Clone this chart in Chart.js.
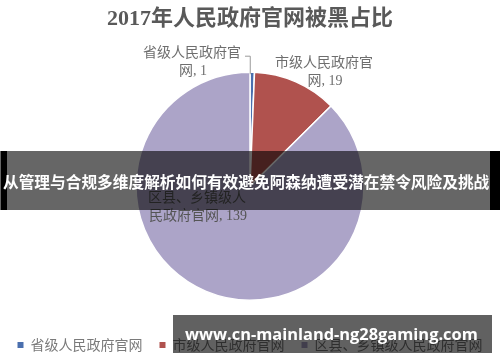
<!DOCTYPE html>
<html>
<head>
<meta charset="utf-8">
<script src="https://cdn.jsdelivr.net/npm/chart.js@4"></script>
<style>
  html, body { margin: 0; padding: 0; background: #fff; }
  #wrap { position: relative; width: 500px; height: 362px; overflow: hidden; }
  #chart { position: absolute; left: 0; top: 0; }
  .band {
    position: absolute; left: 0; top: 151px; width: 500px; height: 59px;
    background: rgba(0, 0, 0, 0.6);
  }
  .band .edge-l { position: absolute; left: 1px; top: 0; width: 6px; height: 100%; background: #000; }
  .band .edge-r { position: absolute; right: 0; top: 0; width: 10px; height: 100%; background: #000; }
  .band .txt {
    position: absolute; left: 3px; top: 0; height: 59px;
    color: #fff; font: bold 15.7px 'Noto Sans CJK SC', sans-serif; white-space: nowrap;
    line-height: 62px;
  }
  .mark {
    position: absolute; left: 173px; top: 315px; width: 319px; height: 38px;
    background: rgba(0, 0, 0, 0.62);
  }
  .mark .txt {
    position: absolute; left: 12px; top: 0; height: 38px;
    color: #fff; font: bold 16.4px 'Open Sans', sans-serif; white-space: nowrap;
    line-height: 38px;
  }
</style>
</head>
<body>
<div id="wrap">
  <canvas id="chart" width="500" height="362"></canvas>
  <div class="band"><div class="edge-l"></div><div class="edge-r"></div>
    <div class="txt">从管理与合规多维度解析如何有效避免阿森纳遭受潜在禁令风险及挑战</div></div>
  <div class="mark"><div class="txt">www.cn-mainland-ng28gaming.com</div></div>
</div>
<script>
/* ─── Data ───────────────────────────────────────────────────────────────── */
const chartTitle = '2017年人民政府官网被黑占比';
const categories = ['省级人民政府官网', '市级人民政府官网', '区县、乡镇级人民政府官网'];
const counts     = [1, 19, 139];
const colors     = ['#4a6fae', '#b0524e', '#aca4c8'];

/* label placement relative to pie centre (two lines each) */
const labelOffsets = [
  { dx: -58, dy: -133 },
  { dx: 74,  dy: -123 },
  { dx: -53, dy: 12 }
];
const labelColors = ['#6e6e6e', '#6e6e6e', '#555555'];

const LABEL_FONT = "14px 'Liberation Serif', 'Noto Sans CJK SC', serif";

/* ─── Data labels plugin ─────────────────────────────────────────────────── */
const pieLabels = {
  id: 'pieLabels',
  afterDatasetsDraw(chart) {
    const ctx  = chart.ctx;
    const meta = chart.getDatasetMeta(0);
    ctx.save();
    ctx.font = LABEL_FONT;
    ctx.textAlign = 'center';
    ctx.textBaseline = 'middle';
    meta.data.forEach((arc, i) => {
      const { x, y, outerRadius, startAngle, endAngle } =
        arc.getProps(['x', 'y', 'outerRadius', 'startAngle', 'endAngle'], true);
      const cat   = categories[i];
      const line1 = cat.slice(0, 7);
      const line2 = cat.slice(7) + ', ' + counts[i];
      const off   = labelOffsets[i];
      const lx = x + off.dx, ly = y + off.dy;
      ctx.fillStyle = labelColors[i];
      ctx.fillText(line1, lx, ly);
      ctx.fillText(line2, lx + 1, ly + 18);

      if (i === 0) {
        /* leader line from label to the thin slice */
        const mid = (startAngle + endAngle) / 2;
        const ax  = x + Math.cos(mid) * outerRadius - 2;
        const ay  = y + Math.sin(mid) * outerRadius + 2;
        const w   = ctx.measureText(line1).width;
        const sx  = lx + w / 2 + 4;
        const sy  = ly + 3;
        ctx.strokeStyle = '#9a9a9a';
        ctx.lineWidth = 1;
        ctx.beginPath();
        ctx.moveTo(sx, sy);
        ctx.lineTo(ax, sy);
        ctx.lineTo(ax, ay);
        ctx.stroke();
      }
    });
    ctx.restore();
  }
};

/* ─── Chart ──────────────────────────────────────────────────────────────── */
const baseLabels = Chart.overrides.doughnut.plugins.legend.labels.generateLabels;

new Chart(document.getElementById('chart'), {
  type: 'pie',
  data: {
    labels: categories,
    datasets: [{
      data:            counts,
      backgroundColor: colors,
      borderColor:     '#ffffff',
      borderWidth:     1.5,
      radius:          114
    }]
  },
  options: {
    responsive: false,
    animation: false,
    events: [],
    plugins: {
      title: {
        display: true,
        text: chartTitle,
        color: '#595959',
        font: { family: "'Liberation Serif', 'Noto Sans CJK SC', serif", size: 22, weight: 'bold' },
        padding: { top: 6, bottom: 19 }
      },
      legend: {
        position: 'bottom',
        labels: {
          boxWidth: 6,
          boxHeight: 6,
          padding: 17,
          color: '#7a7a7a',
          font: { family: "'Noto Sans CJK SC', sans-serif", size: 14 },
          generateLabels: chart => baseLabels(chart).map(l => ({ ...l, lineWidth: 0 }))
        }
      },
      tooltip: { enabled: false }
    }
  },
  plugins: [pieLabels]
});
</script>
</body>
</html>
